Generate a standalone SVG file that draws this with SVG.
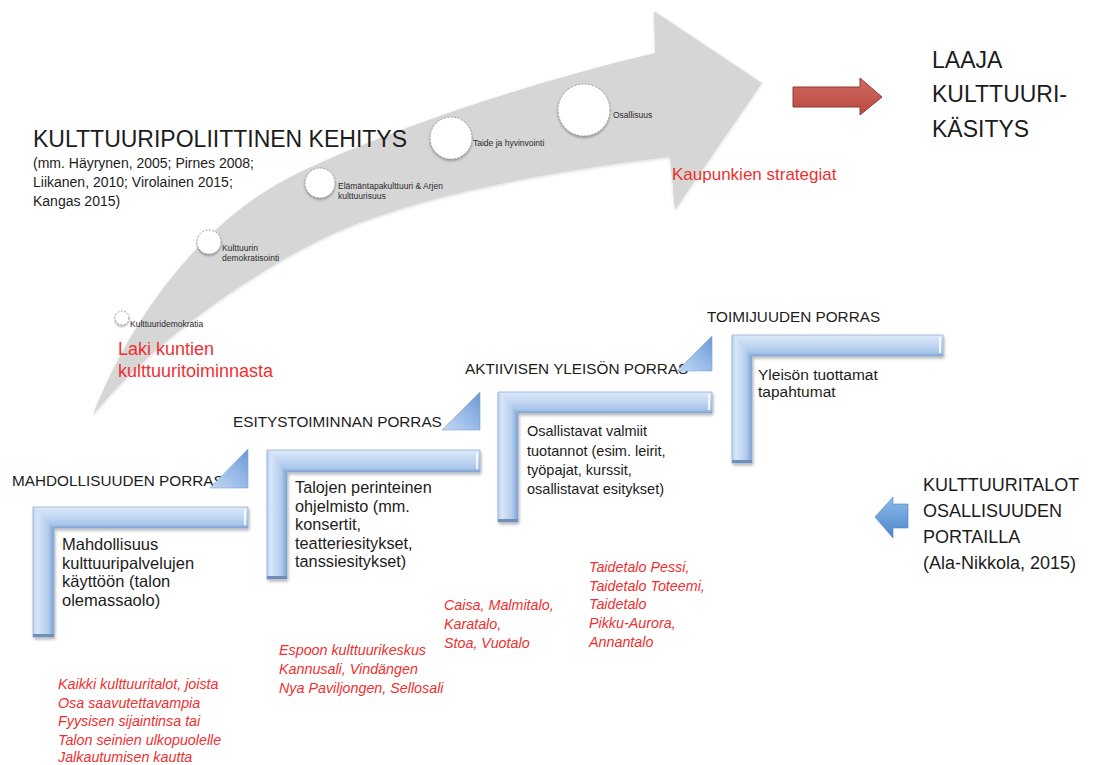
<svg xmlns="http://www.w3.org/2000/svg" width="1105" height="765" viewBox="0 0 1105 765">
<defs>
<linearGradient id="gH" x1="0" y1="0" x2="0" y2="1">
<stop offset="0" stop-color="#dce9f9"/>
<stop offset="0.45" stop-color="#c3d8f2"/>
<stop offset="0.85" stop-color="#a8c5ea"/>
<stop offset="1" stop-color="#7d9fcd"/>
</linearGradient>
<linearGradient id="gV" x1="0" y1="0" x2="1" y2="0">
<stop offset="0" stop-color="#bcd3f0"/>
<stop offset="0.2" stop-color="#d8e6f8"/>
<stop offset="0.7" stop-color="#b3cdee"/>
<stop offset="1" stop-color="#7ea2d1"/>
</linearGradient>
<linearGradient id="gT" x1="0" y1="1" x2="1" y2="0">
<stop offset="0" stop-color="#c4d9f3"/>
<stop offset="0.6" stop-color="#8fb4e4"/>
<stop offset="1" stop-color="#6a98d4"/>
</linearGradient>
<linearGradient id="gB" x1="0" y1="0" x2="0" y2="1">
<stop offset="0" stop-color="#8dbaea"/>
<stop offset="1" stop-color="#4c85c8"/>
</linearGradient>
<linearGradient id="gR" x1="0" y1="0" x2="0" y2="1">
<stop offset="0" stop-color="#d06a62"/>
<stop offset="1" stop-color="#b9493f"/>
</linearGradient>
<filter id="sh" x="-10%" y="-10%" width="130%" height="130%">
<feDropShadow dx="1" dy="2" stdDeviation="1.5" flood-color="#000" flood-opacity="0.3"/>
</filter>
<filter id="csh" x="-30%" y="-30%" width="160%" height="160%">
<feDropShadow dx="0" dy="1.5" stdDeviation="1.2" flood-color="#000" flood-opacity="0.35"/>
</filter>
<filter id="ash" x="-5%" y="-5%" width="110%" height="110%">
<feDropShadow dx="0" dy="1" stdDeviation="1.5" flood-color="#000" flood-opacity="0.15"/>
</filter>
</defs>
<style>
text{font-family:"Liberation Sans",Arial,sans-serif;fill:#1c1c1c}
.hb{fill:url(#gH)}
.vb{fill:url(#gV)}
.lo{fill:none;stroke:#87a9d4;stroke-width:0.7}
.tri{fill:url(#gT);stroke:#7fa3d3;stroke-width:0.6}
.end{fill:#6f8eb8}
.hl{stroke:#ffffff;stroke-width:2;opacity:0.85}
.circ{fill:#ffffff;stroke:#9a9a9a;stroke-width:0.9;stroke-dasharray:2 1.5;filter:url(#csh)}
.cl{font-size:8.5px;fill:#2a2a2a}
.red{fill:#f03030}
.ri{fill:#f03030;font-style:italic;font-size:14.3px}
.lab{font-size:15.3px}
.big{font-size:23px}
</style>

<g id="connectors">
<path id="main-arrow" d="M93,415 C130,320 200,220 300,172 C400,125 540,80 655,53 L654,11 L762,83 L675,210 L670,157 C540,172 400,200 320,240 C240,280 150,345 93,415 Z" fill="#d6d6d6" filter="url(#ash)"/>
<polygon id="red-arrow" points="793,87 860,87 860,78 882,97 860,115 860,107 793,107" fill="url(#gR)" stroke="#8e3b38" stroke-width="1"/>
<polygon id="blue-arrow" points="875,517 893,497 893,504 908,504 908,528 893,528 893,538" fill="url(#gB)" stroke="#4a7fbf" stroke-width="0.6"/>
</g>

<g id="title">
<text class="big" x="33" y="147">KULTTUURIPOLIITTINEN KEHITYS</text>
<text x="33" y="168" font-size="14" fill="#333">(mm. Häyrynen, 2005; Pirnes 2008;</text>
<text x="33" y="187" font-size="14" fill="#333">Liikanen, 2010; Virolainen 2015;</text>
<text x="33" y="206" font-size="14" fill="#333">Kangas 2015)</text>
</g>

<g id="milestone-1">
<circle class="circ" cx="122" cy="318" r="7"/>
<text class="cl" x="130" y="327">Kulttuuridemokratia</text>
</g>
<g id="milestone-2">
<circle class="circ" cx="209" cy="242" r="12"/>
<text class="cl" x="222" y="251">Kulttuurin</text>
<text class="cl" x="222" y="261">demokratisointi</text>
</g>
<g id="milestone-3">
<circle class="circ" cx="320" cy="183" r="15"/>
<text class="cl" x="338" y="189">Elämäntapakulttuuri &amp; Arjen</text>
<text class="cl" x="338" y="199">kulttuurisuus</text>
</g>
<g id="milestone-4">
<circle class="circ" cx="451" cy="138" r="21"/>
<text class="cl" x="473" y="146">Taide ja hyvinvointi</text>
</g>
<g id="milestone-5">
<circle class="circ" cx="584" cy="110" r="26"/>
<text class="cl" x="613" y="118">Osallisuus</text>
</g>

<g id="laki">
<text class="red" x="118" y="355" font-size="18">Laki kuntien</text>
<text class="red" x="118" y="377" font-size="18">kulttuuritoiminnasta</text>
</g>
<g id="strategiat">
<text class="red" x="672" y="180" font-size="17">Kaupunkien strategiat</text>
</g>
<g id="laaja">
<text class="big" x="932" y="68">LAAJA</text>
<text class="big" x="932" y="102">KULTTUURI-</text>
<text class="big" x="932" y="137">KÄSITYS</text>
</g>

<g id="step-1">
<text class="lab" x="12" y="486" font-size="15.5px">MAHDOLLISUUDEN PORRAS</text>
<polygon class="tri" points="210,488 248,488 248,449"/>
<g filter="url(#sh)">
<polygon class="hb" points="33,507 248,507 248,528 54,528"/>
<polygon class="vb" points="33,507 54,528 54,637 33,637"/>
<polygon class="lo" points="33,507 248,507 248,528 54,528 54,637 33,637"/>
<rect class="end" x="33" y="634" width="21" height="3"/>
<line class="hl" x1="245" y1="509" x2="245" y2="525"/>
</g>
<text x="62" y="550" font-size="16.5">Mahdollisuus</text>
<text x="62" y="568.7" font-size="16.5">kulttuuripalvelujen</text>
<text x="62" y="587.4" font-size="16.5">käyttöön (talon</text>
<text x="62" y="606" font-size="16.5">olemassaolo)</text>
</g>

<g id="step-2">
<text class="lab" x="233" y="427">ESITYSTOIMINNAN PORRAS</text>
<polygon class="tri" points="442,430 480,430 480,392"/>
<g filter="url(#sh)">
<polygon class="hb" points="267,450 480,450 480,472 287,472"/>
<polygon class="vb" points="267,450 287,472 287,579 267,579"/>
<polygon class="lo" points="267,450 480,450 480,472 287,472 287,579 267,579"/>
<rect class="end" x="267" y="576" width="20" height="3"/>
<line class="hl" x1="477" y1="452" x2="477" y2="469"/>
</g>
<text x="295" y="493" font-size="16.3">Talojen perinteinen</text>
<text x="295" y="511.5" font-size="16.3">ohjelmisto (mm.</text>
<text x="295" y="530" font-size="16.3">konsertit,</text>
<text x="295" y="548.5" font-size="16.3">teatteriesitykset,</text>
<text x="295" y="567" font-size="16.3">tanssiesitykset)</text>
</g>

<g id="step-3">
<text class="lab" x="465" y="374" font-size="14.7px">AKTIIVISEN YLEISÖN PORRAS</text>
<polygon class="tri" points="677,371 712,371 712,336"/>
<g filter="url(#sh)">
<polygon class="hb" points="498,392 712,392 712,413 518,413"/>
<polygon class="vb" points="498,392 518,413 518,522 498,522"/>
<polygon class="lo" points="498,392 712,392 712,413 518,413 518,522 498,522"/>
<rect class="end" x="498" y="519" width="20" height="3"/>
<line class="hl" x1="709" y1="394" x2="709" y2="410"/>
</g>
<text x="527" y="436" font-size="14.5">Osallistavat valmiit</text>
<text x="527" y="455.5" font-size="14.5">tuotannot (esim. leirit,</text>
<text x="527" y="475" font-size="14.5">työpajat, kurssit,</text>
<text x="527" y="494" font-size="14.5">osallistavat esitykset)</text>
</g>

<g id="step-4">
<text class="lab" x="707" y="322" font-size="15.5px">TOIMIJUUDEN PORRAS</text>
<g filter="url(#sh)">
<polygon class="hb" points="732,335 943,335 943,356 752,356"/>
<polygon class="vb" points="732,335 752,356 752,463 732,463"/>
<polygon class="lo" points="732,335 943,335 943,356 752,356 752,463 732,463"/>
<rect class="end" x="732" y="460" width="20" height="3"/>
<line class="hl" x1="940" y1="337" x2="940" y2="353"/>
</g>
<text x="758" y="380" font-size="15.5">Yleisön tuottamat</text>
<text x="758" y="397" font-size="15.5">tapahtumat</text>
</g>

<g id="kulttuuritalot">
<text x="923" y="491" font-size="18">KULTTUURITALOT</text>
<text x="923" y="517" font-size="18">OSALLISUUDEN</text>
<text x="923" y="543" font-size="18">PORTAILLA</text>
<text x="923" y="569" font-size="18">(Ala-Nikkola, 2015)</text>
</g>

<g id="examples-1">
<text class="ri" x="58" y="689">Kaikki kulttuuritalot, joista</text>
<text class="ri" x="58" y="707.5">Osa saavutettavampia</text>
<text class="ri" x="58" y="726">Fyysisen sijaintinsa tai</text>
<text class="ri" x="58" y="744.5">Talon seinien ulkopuolelle</text>
<text class="ri" x="58" y="762">Jalkautumisen kautta</text>
</g>
<g id="examples-2">
<text class="ri" x="279" y="655">Espoon kulttuurikeskus</text>
<text class="ri" x="279" y="674">Kannusali, Vindängen</text>
<text class="ri" x="279" y="693">Nya Paviljongen, Sellosali</text>
</g>
<g id="examples-3">
<text class="ri" x="444" y="610">Caisa, Malmitalo,</text>
<text class="ri" x="444" y="629">Karatalo,</text>
<text class="ri" x="444" y="647.5">Stoa, Vuotalo</text>
</g>
<g id="examples-4">
<text class="ri" x="589" y="572">Taidetalo Pessi,</text>
<text class="ri" x="589" y="590.5">Taidetalo Toteemi,</text>
<text class="ri" x="589" y="609">Taidetalo</text>
<text class="ri" x="589" y="628">Pikku-Aurora,</text>
<text class="ri" x="589" y="646.5">Annantalo</text>
</g>
</svg>
